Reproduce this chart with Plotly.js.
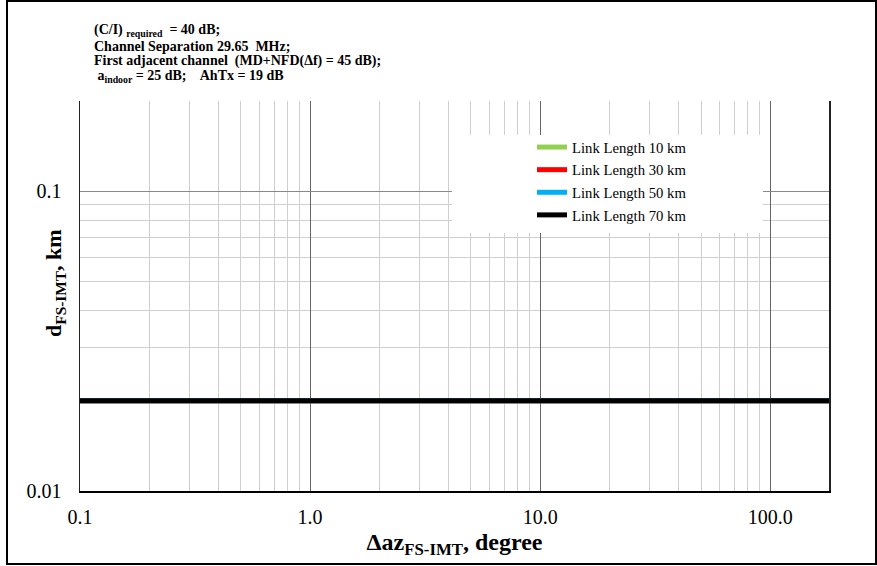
<!DOCTYPE html>
<html>
<head>
<meta charset="utf-8">
<script src="https://cdn.plot.ly/plotly-3.0.1.min.js"></script>
<style>html,body{margin:0;padding:0;background:#fff;}#chart{width:877px;height:566px;}</style>
</head>
<body>
<div id="chart"></div>
<script>
// Azimuth difference, degrees
const azimuth = [0.1, 0.2, 0.5, 1, 2, 5, 10, 20, 50, 100, 180];
// Separation distance d_FS-IMT (km) for each link length
const link10km = [0.02, 0.02, 0.02, 0.02, 0.02, 0.02, 0.02, 0.02, 0.02, 0.02, 0.02];
const link30km = [0.02, 0.02, 0.02, 0.02, 0.02, 0.02, 0.02, 0.02, 0.02, 0.02, 0.02];
const link50km = [0.02, 0.02, 0.02, 0.02, 0.02, 0.02, 0.02, 0.02, 0.02, 0.02, 0.02];
const link70km = [0.02, 0.02, 0.02, 0.02, 0.02, 0.02, 0.02, 0.02, 0.02, 0.02, 0.02];
const seriesNames = ['Link Length 10 km', 'Link Length 30 km', 'Link Length 50 km', 'Link Length 70 km'];
const seriesColors = ['#92d050', '#ff0000', '#00b0f0', '#000000'];
const xTickVals = [0.1, 1, 10, 100];
const xTickText = ['0.1', '1.0', '10.0', '100.0'];
const yTickVals = [0.01, 0.1, 0.2];
const yTickText = ['0.01', '0.1', ' '];
const noteLines = [
  '<b>(C/I) <sub>required</sub>  = 40 dB;</b>',
  '<b>Channel Separation 29.65  MHz;</b>',
  '<b>First adjacent channel  (MD+NFD(Δf) = 45 dB);</b>',
  '<b> a<sub>indoor</sub> = 25 dB;    AhTx = 19 dB</b>'
];

const xMinor = [];
[0.1, 1, 10].forEach(d => { for (let k = 2; k <= 9; k++) xMinor.push(+(d * k).toPrecision(3)); });
const yMinor = [];
for (let k = 2; k <= 9; k++) yMinor.push(+(0.01 * k).toPrecision(3));

const ySeries = [link10km, link30km, link50km, link70km];
const traces = ySeries.map((ys, i) => ({
  x: azimuth, y: ys, type: 'scatter', mode: 'lines', name: seriesNames[i],
  legendgroup: 'g' + i,
  line: {color: seriesColors[i], width: 5}
}));

const serif = 'Liberation Serif, Times New Roman, serif';
const xr = [Math.log10(0.1), Math.log10(180)];
const yr = [Math.log10(0.01), Math.log10(0.2)];
// pixel helpers (plot area: x 80..829, y 101..491)
const px = v => (v - 80) / 749;
const py = v => (491 - v) / 390;

const annotations = noteLines.map((t, i) => ({
  xref: 'paper', yref: 'paper', x: px(92), y: py([31, 46, 61, 76][i]),
  xanchor: 'left', yanchor: 'middle', align: 'left', showarrow: false,
  font: {family: serif, size: 14, color: '#000'}, text: t
}));
annotations.push({
  xref: 'paper', yref: 'paper', x: px(55), y: py(283), textangle: -90,
  xanchor: 'center', yanchor: 'middle', showarrow: false,
  font: {family: serif, size: 22, color: '#000'},
  text: '<b>d<sub>FS-IMT</sub>, km</b>'
});

const layout = {
  width: 877, height: 566,
  margin: {l: 80, r: 48, t: 101, b: 75},
  paper_bgcolor: '#fff', plot_bgcolor: '#fff',
  font: {family: serif, color: '#000'},
  showlegend: true,
  legend: {
    x: px(532), xanchor: 'left', y: py(131), yanchor: 'top',
    bgcolor: 'rgba(0,0,0,0)', borderwidth: 0,
    font: {family: serif, size: 14.7, color: '#000'},
    tracegroupgap: 0.5, itemwidth: 30
  },
  xaxis: {
    type: 'log', range: xr,
    tickmode: 'array', tickvals: xTickVals, ticktext: xTickText,
    tickfont: {family: serif, size: 20}, ticks: '', ticklabelstandoff: 7,
    showgrid: true, gridcolor: '#666666', gridwidth: 1,
    minor: {tickmode: 'array', tickvals: xMinor, showgrid: true, gridcolor: '#cfcfcf', gridwidth: 1, ticks: ''},
    showline: true, linecolor: '#000', linewidth: 1.5, zeroline: false,
    title: {text: '<b>Δaz<sub>FS-IMT</sub>, degree</b>', font: {family: serif, size: 24}, standoff: 6}
  },
  yaxis: {
    type: 'log', range: yr,
    tickmode: 'array', tickvals: yTickVals, ticktext: yTickText,
    tickfont: {family: serif, size: 20}, ticks: '', ticklabelstandoff: 13,
    showgrid: true, gridcolor: '#8a8a8a', gridwidth: 1,
    minor: {tickmode: 'array', tickvals: yMinor, showgrid: true, gridcolor: '#cfcfcf', gridwidth: 1, ticks: ''},
    showline: true, mirror: true, linecolor: '#222', linewidth: 1.5, zeroline: false
  },
  shapes: [
    {type: 'rect', xref: 'paper', yref: 'paper', layer: 'above',
     x0: px(452), x1: px(763), y0: py(233), y1: py(135),
     fillcolor: '#ffffff', line: {width: 0}},
    {type: 'rect', xref: 'paper', yref: 'paper', layer: 'above',
     x0: px(7), x1: px(876), y0: py(564), y1: py(1),
     line: {color: '#000', width: 2}, fillcolor: 'rgba(0,0,0,0)'}
  ],
  annotations: annotations
};

Plotly.newPlot('chart', traces, layout, {displayModeBar: false, staticPlot: true});
</script>
</body>
</html>
